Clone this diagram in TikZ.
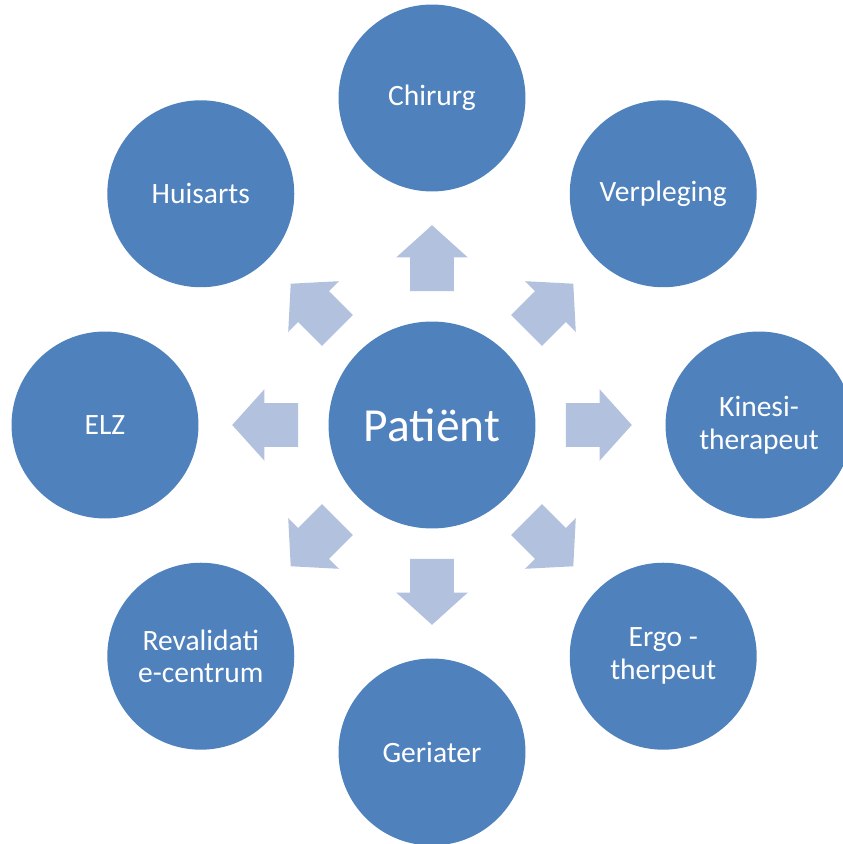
\documentclass[tikz,border=0pt]{standalone}
\usepackage{fontspec}
\setmainfont{Carlito}
\usepackage{tikz}
\usetikzlibrary{positioning,calc,shapes.arrows}
\definecolor{circleblue}{HTML}{4F81BD}
\definecolor{arrowblue}{HTML}{B2C1DE}
\tikzset{
  person/.style={
     circle,
     fill=circleblue,
     text=white,
     inner sep=0pt,
     minimum size=3.74cm,
     align=center,
     font=\fontsize{16.8}{18.6}\selectfont},
  center person/.style={
     person,
     minimum size=4.14cm,
     font=\fontsize{27}{30}\selectfont},
  flow/.style={
     single arrow,
     fill=arrowblue,
     inner xsep=0pt,
     inner ysep=0.43cm,
     minimum height=1.32cm,
     single arrow head extend=0.28cm,
     single arrow tip angle=96}
}

\begin{document}
\begin{tikzpicture}[x=0.02cm, y=0.02cm]
  \useasboundingbox (0,0) rectangle (842,844);

  % Circles
  \node[center person] (pat) at (432,419) {Patiënt};
  \node[person] (chir) at ($(pat)+(90:327)$) {Chirurg};
  \node[person] (verp) at ($(pat)+(45:327)$) {Verpleging};
  \node[person] (kine) at ($(pat)+(0:327)$) {Kinesi-\\therapeut};
  \node[person] (ergo) at ($(pat)+(-45:327)$) {Ergo -\\therpeut};
  \node[person] (geri) at ($(pat)+(-90:327)$) {Geriater};
  \node[person] (reva) at ($(pat)+(-135:327)$) {Revalidati\\e-centrum};
  \node[person] (elz) at ($(pat)+(180:327)$) {ELZ};
  \node[person] (huis) at ($(pat)+(135:327)$) {Huisarts};

  % Arrows
  \node[flow, rotate=90] (to chir) at ($(pat)!0.48!(chir)$) {};
  \node[flow, rotate=45] (to verp) at ($(pat)!0.48!(verp)$) {};
  \node[flow, rotate=0] (to kine) at ($(pat)!0.48!(kine)$) {};
  \node[flow, rotate=-45] (to ergo) at ($(pat)!0.48!(ergo)$) {};
  \node[flow, rotate=-90] (to geri) at ($(pat)!0.48!(geri)$) {};
  \node[flow, rotate=-135] (to reva) at ($(pat)!0.48!(reva)$) {};
  \node[flow, rotate=180] (to elz) at ($(pat)!0.48!(elz)$) {};
  \node[flow, rotate=135] (to huis) at ($(pat)!0.48!(huis)$) {};
\end{tikzpicture}
\end{document}
